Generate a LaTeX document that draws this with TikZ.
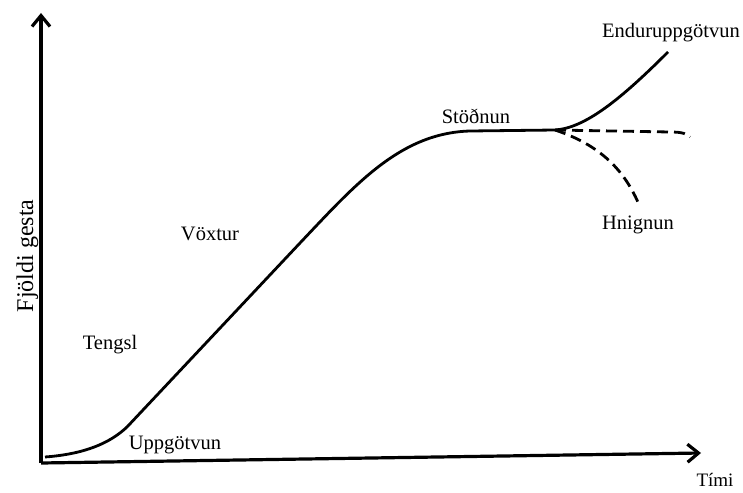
\documentclass[tikz,border=0pt]{standalone}
\usepackage{fontspec}
\setmainfont{Liberation Serif}
\usetikzlibrary{arrows.meta, positioning}
\tikzset{
    axis/.style={line width=3.2pt, -{Straight Barb[length=11pt, width=18pt, line width=3.2pt]}},
    curve/.style={line width=2.8pt, line join=round}
}

\begin{document}
\begin{tikzpicture}[x=1pt, y=-1pt,
    lbl/.style={inner sep=0pt, anchor=base, font=\fontsize{20.5}{24}\selectfont},
    trend/.style={line width=2.8pt, dash pattern=on 11pt off 6pt}]

    \useasboundingbox (0,0) rectangle (743,492);

    % axes
    \coordinate (origin) at (41,463);
    \coordinate (ytip) at (41,13);
    \coordinate (xtip) at (701,453);
    \draw [axis] (origin) -- (ytip);
    \draw [axis] (origin) -- (xtip);

    % main curve
    \coordinate (start) at (45,457);
    \coordinate (kink) at (127,427);
    \coordinate (steep) at (300,243);
    \coordinate (flat) at (470,131);
    \coordinate (fork) at (555,130);
    \coordinate (rise) at (668,52);
    \draw [curve] (start) .. controls (85,454) and (110,443) .. (kink) -- (steep)
        .. controls (355,185) and (400,133) .. (flat) -- (fork)
        .. controls (585,128) and (620,100) .. (rise);

    % dashed branches
    \coordinate (level) at (690,137);
    \coordinate (drop) at (640,207);
    \draw [trend] (fork) -- (670,132) .. controls (683,132) and (687,134) .. (level);
    \draw [trend] (fork) .. controls (600,145) and (625,170) .. (drop);

    % stage labels
    \node (uppg) [lbl] at (175,449) {Uppgötvun};
    \node (tengsl) [lbl] at (110,349) {Tengsl};
    \node (voxtur) [lbl] at (210,240) {Vöxtur};
    \node (stodnun) [lbl] at (476,124) {Stöðnun};
    \node (endur) [lbl] at (671,38) {Enduruppgötvun};
    \node (hnignun) [lbl] at (638,229) {Hnignun};

    % axis labels
    \node (ylabel) [lbl, rotate=90] at (33,256) {\fontsize{24}{28}\selectfont Fjöldi gesta};
    \node (xlabel) [lbl] at (715,486) {\fontsize{19}{22}\selectfont Tími};
\end{tikzpicture}
\end{document}
